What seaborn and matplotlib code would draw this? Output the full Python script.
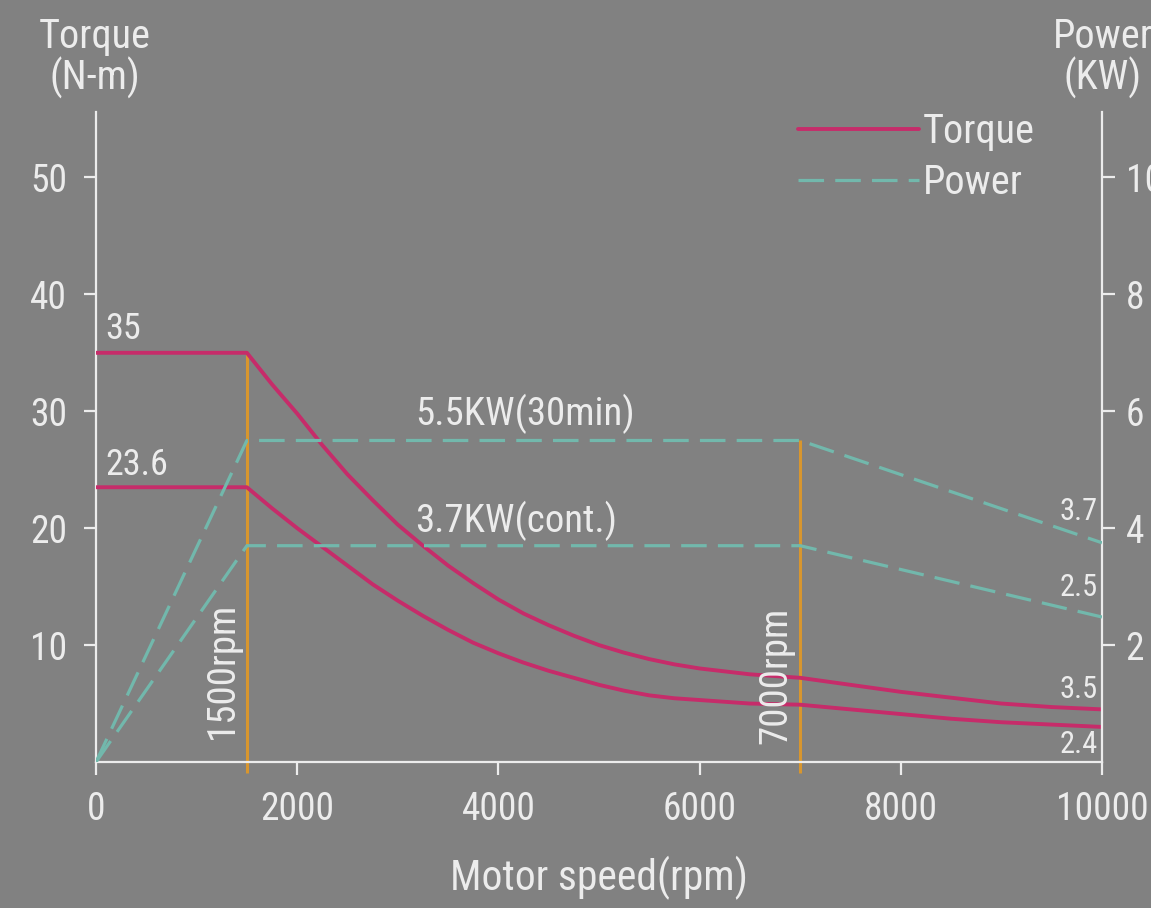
import matplotlib
matplotlib.use("Agg")
import matplotlib.pyplot as plt
import numpy as np
import pandas as pd
import seaborn as sns

# values
speed = [0, 1500, 1750, 2000, 2250, 2500, 2750, 3000, 3250, 3500, 3750,
         4000, 4250, 4500, 4750, 5000, 5250, 5500, 5750, 6000, 6500,
         7000, 7500, 8000, 8500, 9000, 9500, 10000]
torque_30min = [35, 35, 32.3, 29.8, 27.1, 24.6, 22.4, 20.3, 18.5, 16.8, 15.3,
                13.9, 12.7, 11.7, 10.8, 10.0, 9.35, 8.8, 8.35, 8.0, 7.5,
                7.2, 6.6, 6.0, 5.5, 5.0, 4.7, 4.5]
torque_cont = [23.5, 23.5, 21.7, 20.0, 18.4, 16.8, 15.2, 13.8, 12.5, 11.3, 10.2,
               9.3, 8.5, 7.8, 7.2, 6.6, 6.1, 5.7, 5.45, 5.3, 5.0,
               4.9, 4.5, 4.1, 3.7, 3.4, 3.2, 3.0]
power_speed = [0, 1500, 7000, 10000]
power_30min = [0, 5.5, 5.5, 3.75]
power_cont = [0, 3.7, 3.7, 2.48]
base_speeds = [1500, 7000]
base_tops = [35, 27.5]

bg = "#818181"
fg = "#ececec"
pink = "#c62c6a"
teal = "#72b8ac"
orange = "#d8962e"

sns.set_style("ticks")
plt.rcParams["font.family"] = ["Roboto Condensed", "DejaVu Sans"]
plt.rcParams["font.stretch"] = "condensed"

fig = plt.figure(figsize=(11.51, 9.08), dpi=100, facecolor=bg)
ax = fig.add_axes([0.0834, 0.1608, 0.874, 0.7159])
ax.set_facecolor("none")
ax2 = ax.twinx()
ax2.set_facecolor("none")

# orange base-speed markers
ax.vlines(base_speeds, -0.9, base_tops, colors=orange, linewidth=2.2, clip_on=False, zorder=2)

sns.lineplot(x=speed, y=torque_30min, ax=ax, color=pink, linewidth=2.8, zorder=3)
sns.lineplot(x=speed, y=torque_cont, ax=ax, color=pink, linewidth=2.8, zorder=3)
sns.lineplot(x=power_speed, y=power_30min, ax=ax2, color=teal, linewidth=2.3,
             linestyle=(0, (8, 3.5)), zorder=3)
sns.lineplot(x=power_speed, y=power_cont, ax=ax2, color=teal, linewidth=2.3,
             linestyle=(0, (8, 3.5)), zorder=3)

ax.set_xlim(0, 10000)
ax.set_ylim(0, 55.6)
ax2.set_ylim(0, 11.12)
ax.set_xticks([0, 2000, 4000, 6000, 8000, 10000])
ax.set_yticks([10, 20, 30, 40, 50])
ax2.set_yticks([2, 4, 6, 8, 10])

for a in (ax, ax2):
    for s in a.spines.values():
        s.set_color(fg)
        s.set_linewidth(1.6)
    a.spines["top"].set_visible(False)
ax.spines["right"].set_visible(False)
ax2.spines["left"].set_visible(False)
ax2.spines["bottom"].set_visible(False)

ax.tick_params(axis="both", colors=fg, labelsize=27, length=9, width=1.6, pad=12)
ax2.tick_params(axis="y", colors=fg, labelsize=27, length=9, width=1.6, pad=8)

ax.set_xlabel("Motor speed(rpm)", color=fg, fontsize=30, labelpad=20)
ax.set_ylabel("")
ax2.set_ylabel("")

fig.text(95 / 1151, 1 - 58 / 908, "Torque\n(N-m)", color=fg, fontsize=29,
         ha="center", va="center", linespacing=1.0)
fig.text(1103 / 1151, 1 - 58 / 908, "Power\n(KW)", color=fg, fontsize=29,
         ha="center", va="center", linespacing=1.0)

# curve annotations
ax.text(90, 37.0, "35", color=fg, fontsize=26, ha="left", va="center")
ax.text(90, 25.4, "23.6", color=fg, fontsize=26, ha="left", va="center")
ax.text(3171, 29.8, "5.5KW(30min)", color=fg, fontsize=28, ha="left", va="center")
ax.text(3171, 20.6, "3.7KW(cont.)", color=fg, fontsize=28, ha="left", va="center")
ax.text(9960, 21.4, "3.7", color=fg, fontsize=22, ha="right", va="center")
ax.text(9960, 14.9, "2.5", color=fg, fontsize=22, ha="right", va="center")
ax.text(9960, 6.2, "3.5", color=fg, fontsize=22, ha="right", va="center")
ax.text(9960, 1.5, "2.4", color=fg, fontsize=22, ha="right", va="center")
ax.text(1252, 7.8, "1500rpm", color=fg, fontsize=28, rotation=90,
        ha="center", va="center")
ax.text(6760, 7.4, "7000rpm", color=fg, fontsize=28, rotation=90,
        ha="center", va="center")

handles = [plt.Line2D([], [], color=pink, linewidth=2.8),
           plt.Line2D([], [], color=teal, linewidth=2.3, linestyle=(0, (8, 3.5)))]
leg = ax.legend(handles, ["Torque", "Power"], loc="upper left", bbox_to_anchor=(0.698, 1.0),
                frameon=False, fontsize=29, handlelength=3.0, handletextpad=0.1,
                labelspacing=0.3, borderaxespad=0, borderpad=0)
for t in leg.get_texts():
    t.set_color(fg)

fig.savefig("out.png", dpi=100, facecolor=bg)
